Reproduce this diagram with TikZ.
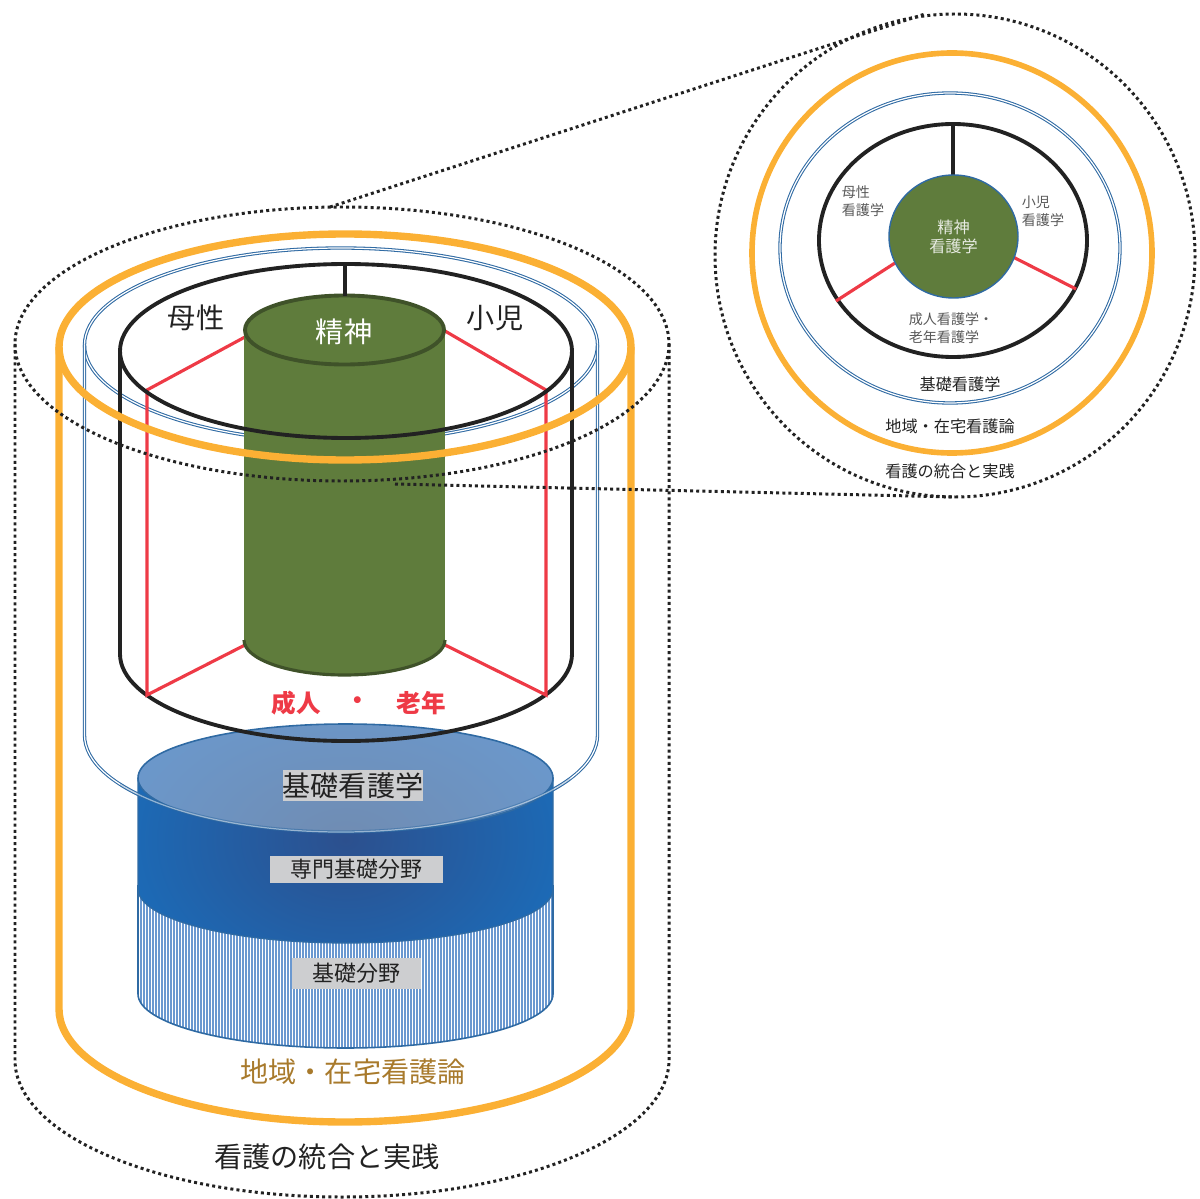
\documentclass[tikz,border=0pt]{standalone}
\usepackage{fontspec}
\setmainfont{Noto Sans CJK JP}
\definecolor{ring}{HTML}{FBB034}
\definecolor{leaf}{HTML}{5F7C3C}
\definecolor{leafdark}{HTML}{3F5229}
\definecolor{bluewire}{HTML}{2F6AA3}
\definecolor{redwire}{HTML}{EE3A46}
\definecolor{stripe}{HTML}{6A98D0}
\definecolor{ink}{HTML}{222222}
\definecolor{labelgray}{HTML}{CDCED0}
\definecolor{regional}{HTML}{A87A2C}
\definecolor{bandmid}{HTML}{2C508E}
\definecolor{bandedge}{HTML}{1B6CB9}
\definecolor{diskmid}{HTML}{708CB2}
\definecolor{diskedge}{HTML}{6A9AD0}

\begin{document}
\begin{tikzpicture}[
  x=0.02cm, y=-0.02cm,
  dots/.style={draw=ink, line width=1.7pt, dash pattern=on 1.7pt off 1.8pt},
  orangeline/.style={draw=ring, line width=4.2pt},
  wire/.style={draw=bluewire, line width=0.6pt, double=white, double distance=0.7pt},
  blackline/.style={draw=ink, line width=2.2pt},
  spoke/.style={draw=redwire, line width=1.8pt},
  plate/.style={fill=labelgray, inner sep=0pt, text=ink},
  big/.style={font=\fontsize{16}{18}\selectfont, text=ink, inner sep=0pt},
  redlabel/.style={font=\fontsize{14}{16}\selectfont\bfseries, text=redwire, inner sep=0pt},
  tiny/.style={font=\fontsize{8}{10}\selectfont, text=ink!75, inner sep=0pt},
  mid/.style={font=\fontsize{9.2}{11}\selectfont, text=ink, inner sep=0pt}
]
\useasboundingbox (0,0) rectangle (1200,1199);

% Free ends of the two zoom lines
\coordinate (zoomA) at (330,207);
\coordinate (zoomB) at (925,14);
\coordinate (zoomC) at (395,484);
\coordinate (zoomD) at (955,497);

% Blue wire cylinder
\draw[wire] (341,345) ellipse [x radius=256.5, y radius=97];
\draw[wire] (84.5,345) -- (84.5,735) arc[start angle=180, end angle=0, x radius=256.5, y radius=97] -- (597.5,345);

% Striped base
\fill[white] (138,778) -- (138,994) arc[start angle=180, end angle=0, x radius=207.5, y radius=54] -- (553,778) -- cycle;
\begin{scope}
  \clip (138,778) -- (138,994) arc[start angle=180, end angle=0, x radius=207.5, y radius=54] -- (553,778) -- cycle;
  \foreach \xs in {138,141,...,553}
    \draw[stripe, line width=0.8pt] (\xs,880) -- (\xs,1050);
\end{scope}
\draw[bluewire, line width=0.9pt] (138,885) -- (138,994) arc[start angle=180, end angle=0, x radius=207.5, y radius=54] -- (553,885);

% Dark blue band
\begin{scope}
  \clip (138,778) -- (138,889) arc[start angle=180, end angle=0, x radius=207.5, y radius=54] -- (553,778) -- cycle;
  \shade[inner color=bandmid, outer color=bandedge] (110,660) rectangle (581,1020);
\end{scope}
\draw[bluewire, line width=0.7pt] (138,778) -- (138,889) arc[start angle=180, end angle=0, x radius=207.5, y radius=54] -- (553,778);

% Top of the disk
\begin{scope}
  \clip (345.5,778) ellipse [x radius=207.5, y radius=54];
  \shade[inner color=diskmid, outer color=diskedge] (60,660) rectangle (631,1020);
\end{scope}
\draw[bluewire, line width=0.9pt] (345.5,778) ellipse [x radius=207.5, y radius=54];
\begin{scope}
  \clip (120,778) rectangle (570,850);
  \draw[wire, opacity=0.5] (84.5,735) arc[start angle=180, end angle=0, x radius=256.5, y radius=97];
\end{scope}

% Black cylinder
\draw[blackline] (120,351) -- (120,654) arc[start angle=180, end angle=0, x radius=226, y radius=87] -- (572,351);

% Red lines
\draw[spoke, line join=miter] (245,337) -- (147,390) -- (147,695) -- (245,645);
\draw[spoke, line join=miter] (445,331) -- (546,390) -- (546,695) -- (445,645);

% Green cylinder
\fill[leaf] (244,330) rectangle (445,640);
\fill[leaf] (344.5,640) ellipse [x radius=100.5, y radius=35];
\draw[leafdark, line width=1.8pt] (244,640) arc[start angle=180, end angle=0, x radius=100.5, y radius=35];
\draw[leafdark, line width=2.2pt, fill=leaf] (344.5,330) ellipse [x radius=99.5, y radius=34.5];

% Black top and orange top go over the green
\draw[blackline] (346,351) ellipse [x radius=226, y radius=87];
\draw[blackline] (345,265) -- (345,296);
\draw[orangeline] (345,347) ellipse [x radius=286, y radius=113];
\draw[orangeline] (59,347) -- (59,1009) arc[start angle=180, end angle=0, x radius=286, y radius=113] -- (631,347);

% Dotted cylinder
\draw[dots] (342,344) ellipse [x radius=327, y radius=137];
\draw[dots] (15,344) -- (15,1060) arc[start angle=180, end angle=0, x radius=327, y radius=137] -- (669,344);

% Round plan on the right
\draw[dots] (955,255.5) ellipse [x radius=240, y radius=241.5];
\draw[draw=ring, line width=3.2pt] (952,253) circle [radius=200];
\draw[wire] (950,248) ellipse [x radius=170, y radius=155];
\draw[blackline] (953,240.5) ellipse [x radius=134, y radius=116.5];
\draw[blackline] (953,124) -- (953,175);
\draw[spoke] (895,263) -- (836,301);
\draw[spoke] (1013,257) -- (1076,289);
\draw[bluewire, line width=0.8pt, fill=leaf] (953.5,236.5) ellipse [x radius=64.5, y radius=61.5];

% Zoom lines
\draw[dots] (zoomA) -- (zoomB);
\draw[dots] (zoomC) -- (zoomD);

% Labels on the cylinder
\node[big] (maternal) at (196,318) {母性};
\node[big] (child) at (495,318) {小児};
\node[big, text=white] (mental) at (344,332) {精神};
\node[redlabel] (adult) at (296,703) {成人};
\node[redlabel] (dot) at (358,703) {・};
\node[redlabel] (elder) at (421,703) {老年};
\node[plate, font=\fontsize{16}{18}\selectfont, minimum width=2.8cm, minimum height=0.62cm] (basic) at (353,785.5) {基礎看護学};
\node[plate, font=\fontsize{12.5}{14}\selectfont, minimum width=3.46cm, minimum height=0.54cm] (special) at (356.5,869) {専門基礎分野};
\node[plate, font=\fontsize{12.5}{14}\selectfont, minimum width=2.58cm, minimum height=0.62cm] (found) at (356.5,973) {基礎分野};
\node[big, text=regional] (region) at (353,1072) {地域・在宅看護論};
\node[big] (practice) at (327,1157) {看護の統合と実践};

% Labels on the round plan
\node[tiny, align=left] (maternalB) at (863,201) {母性\\看護学};
\node[tiny, align=left] (childB) at (1043,211) {小児\\看護学};
\node[mid, text=white!85!leaf, align=center] (mentalB) at (953.5,237) {精神\\看護学};
\node[tiny, align=left] (adultB) at (951,328) {成人看護学・\\老年看護学};
\node[mid] (basicB) at (960,384) {基礎看護学};
\node[mid] (regionB) at (950,426) {地域・在宅看護論};
\node[mid] (practiceB) at (950,471) {看護の統合と実践};
\end{tikzpicture}
\end{document}
